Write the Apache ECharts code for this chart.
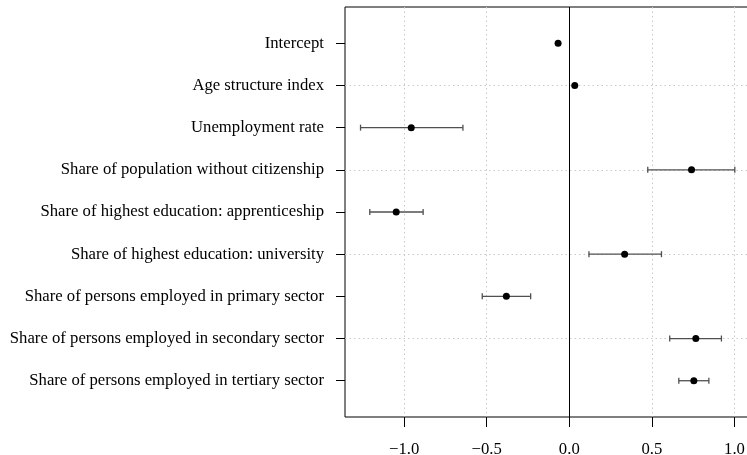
<!DOCTYPE html>
<html>
<head>
<meta charset="utf-8">
<script src="https://cdn.jsdelivr.net/npm/echarts@6/dist/echarts.min.js"></script>
<style>
  html, body { margin: 0; padding: 0; background: #fff; }
  #chart { width: 747px; height: 455px; }
</style>
</head>
<body>
<div id="chart"></div>
<script>
// Regression coefficients with confidence intervals
var terms = [
  'Intercept',
  'Age structure index',
  'Unemployment rate',
  'Share of population without citizenship',
  'Share of highest education: apprenticeship',
  'Share of highest education: university',
  'Share of persons employed in primary sector',
  'Share of persons employed in secondary sector',
  'Share of persons employed in tertiary sector'
];
var estimates = [-0.068, 0.033, -0.957, 0.740, -1.048, 0.335, -0.381, 0.766, 0.754];
var lowerCI   = [null, null, -1.264, 0.475, -1.208, 0.119, -0.527, 0.608, 0.663];
var upperCI   = [null, null, -0.644, 1.002, -0.885, 0.558, -0.234, 0.921, 0.845];

var xTickValues = [-1, -0.5, 0, 0.5, 1];
var xTickLabels = ['\u22121.0', '\u22120.5', '0.0', '0.5', '1.0'];
var yGridValues = [2, 4, 6, 8];
var xGridValues = [-1, -0.5, 0.5, 1];

var rows = terms.map(function (t, i) { return i + 1; });
var pointData = estimates.map(function (v, i) { return [v, rows[i]]; });
var ciData = [];
for (var i = 0; i < terms.length; i++) {
  if (lowerCI[i] != null) ciData.push([lowerCI[i], upperCI[i], rows[i]]);
}

var FONT = 'Liberation Serif';
var FS = 16.7;
var chart = echarts.init(document.getElementById('chart'), null, { renderer: 'canvas' });

var dotted = { color: '#c8c8c8', width: 1, type: [1.5, 3] };

chart.setOption({
  animation: false,
  grid: {
    left: 345, top: 7, width: 405, height: 410,
    outerBoundsMode: 'none',
    containLabel: false,
    show: true, borderColor: '#000', borderWidth: 1, backgroundColor: 'transparent'
  },
  xAxis: {
    type: 'value',
    min: -1.358, max: 1.094,
    axisLine: { show: false, onZero: false },
    splitLine: { show: false },
    axisTick: { show: true, length: 10, customValues: xTickValues, lineStyle: { color: '#000' } },
    axisLabel: {
      customValues: xTickValues,
      margin: 24,
      fontFamily: FONT, fontSize: FS, color: '#000',
      formatter: function (v) {
        var k = xTickValues.indexOf(v);
        return k >= 0 ? xTickLabels[k] : '';
      }
    }
  },
  yAxis: {
    type: 'value',
    inverse: true,
    min: 0.14, max: 9.86,
    axisLine: { show: false, onZero: false },
    splitLine: { show: false },
    axisTick: { show: true, length: 9, customValues: rows, lineStyle: { color: '#000' } },
    axisLabel: {
      customValues: rows,
      margin: 21,
      fontFamily: FONT, fontSize: FS, color: '#000',
      formatter: function (v) { return terms[Math.round(v) - 1] || ''; }
    }
  },
  series: [
    {
      // reference grid and zero line
      type: 'line',
      data: [],
      silent: true,
      z: 1,
      markLine: {
        silent: true,
        symbol: 'none',
        label: { show: false },
        animation: false,
        data: yGridValues.map(function (v) { return { yAxis: v, lineStyle: dotted }; })
          .concat(xGridValues.map(function (v) { return { xAxis: v, lineStyle: dotted }; }))
          .concat([{ xAxis: 0, lineStyle: { color: '#000', width: 1, type: 'solid' } }])
      }
    },
    {
      // confidence interval bars with end caps
      type: 'custom',
      data: ciData,
      encode: { x: [0, 1], y: 2 },
      z: 5,
      renderItem: function (params, api) {
        var a = api.coord([api.value(0), api.value(2)]);
        var b = api.coord([api.value(1), api.value(2)]);
        var h = 3;
        var st = { stroke: '#505050', lineWidth: 1.3 };
        return {
          type: 'group',
          children: [
            { type: 'line', shape: { x1: a[0], y1: a[1], x2: b[0], y2: b[1] }, style: st },
            { type: 'line', shape: { x1: a[0], y1: a[1] - h, x2: a[0], y2: a[1] + h }, style: st },
            { type: 'line', shape: { x1: b[0], y1: b[1] - h, x2: b[0], y2: b[1] + h }, style: st }
          ]
        };
      }
    },
    {
      type: 'scatter',
      data: pointData,
      symbol: 'circle',
      symbolSize: 7,
      z: 10,
      itemStyle: { color: '#000', opacity: 1, borderWidth: 0 }
    }
  ]
});
</script>
</body>
</html>
